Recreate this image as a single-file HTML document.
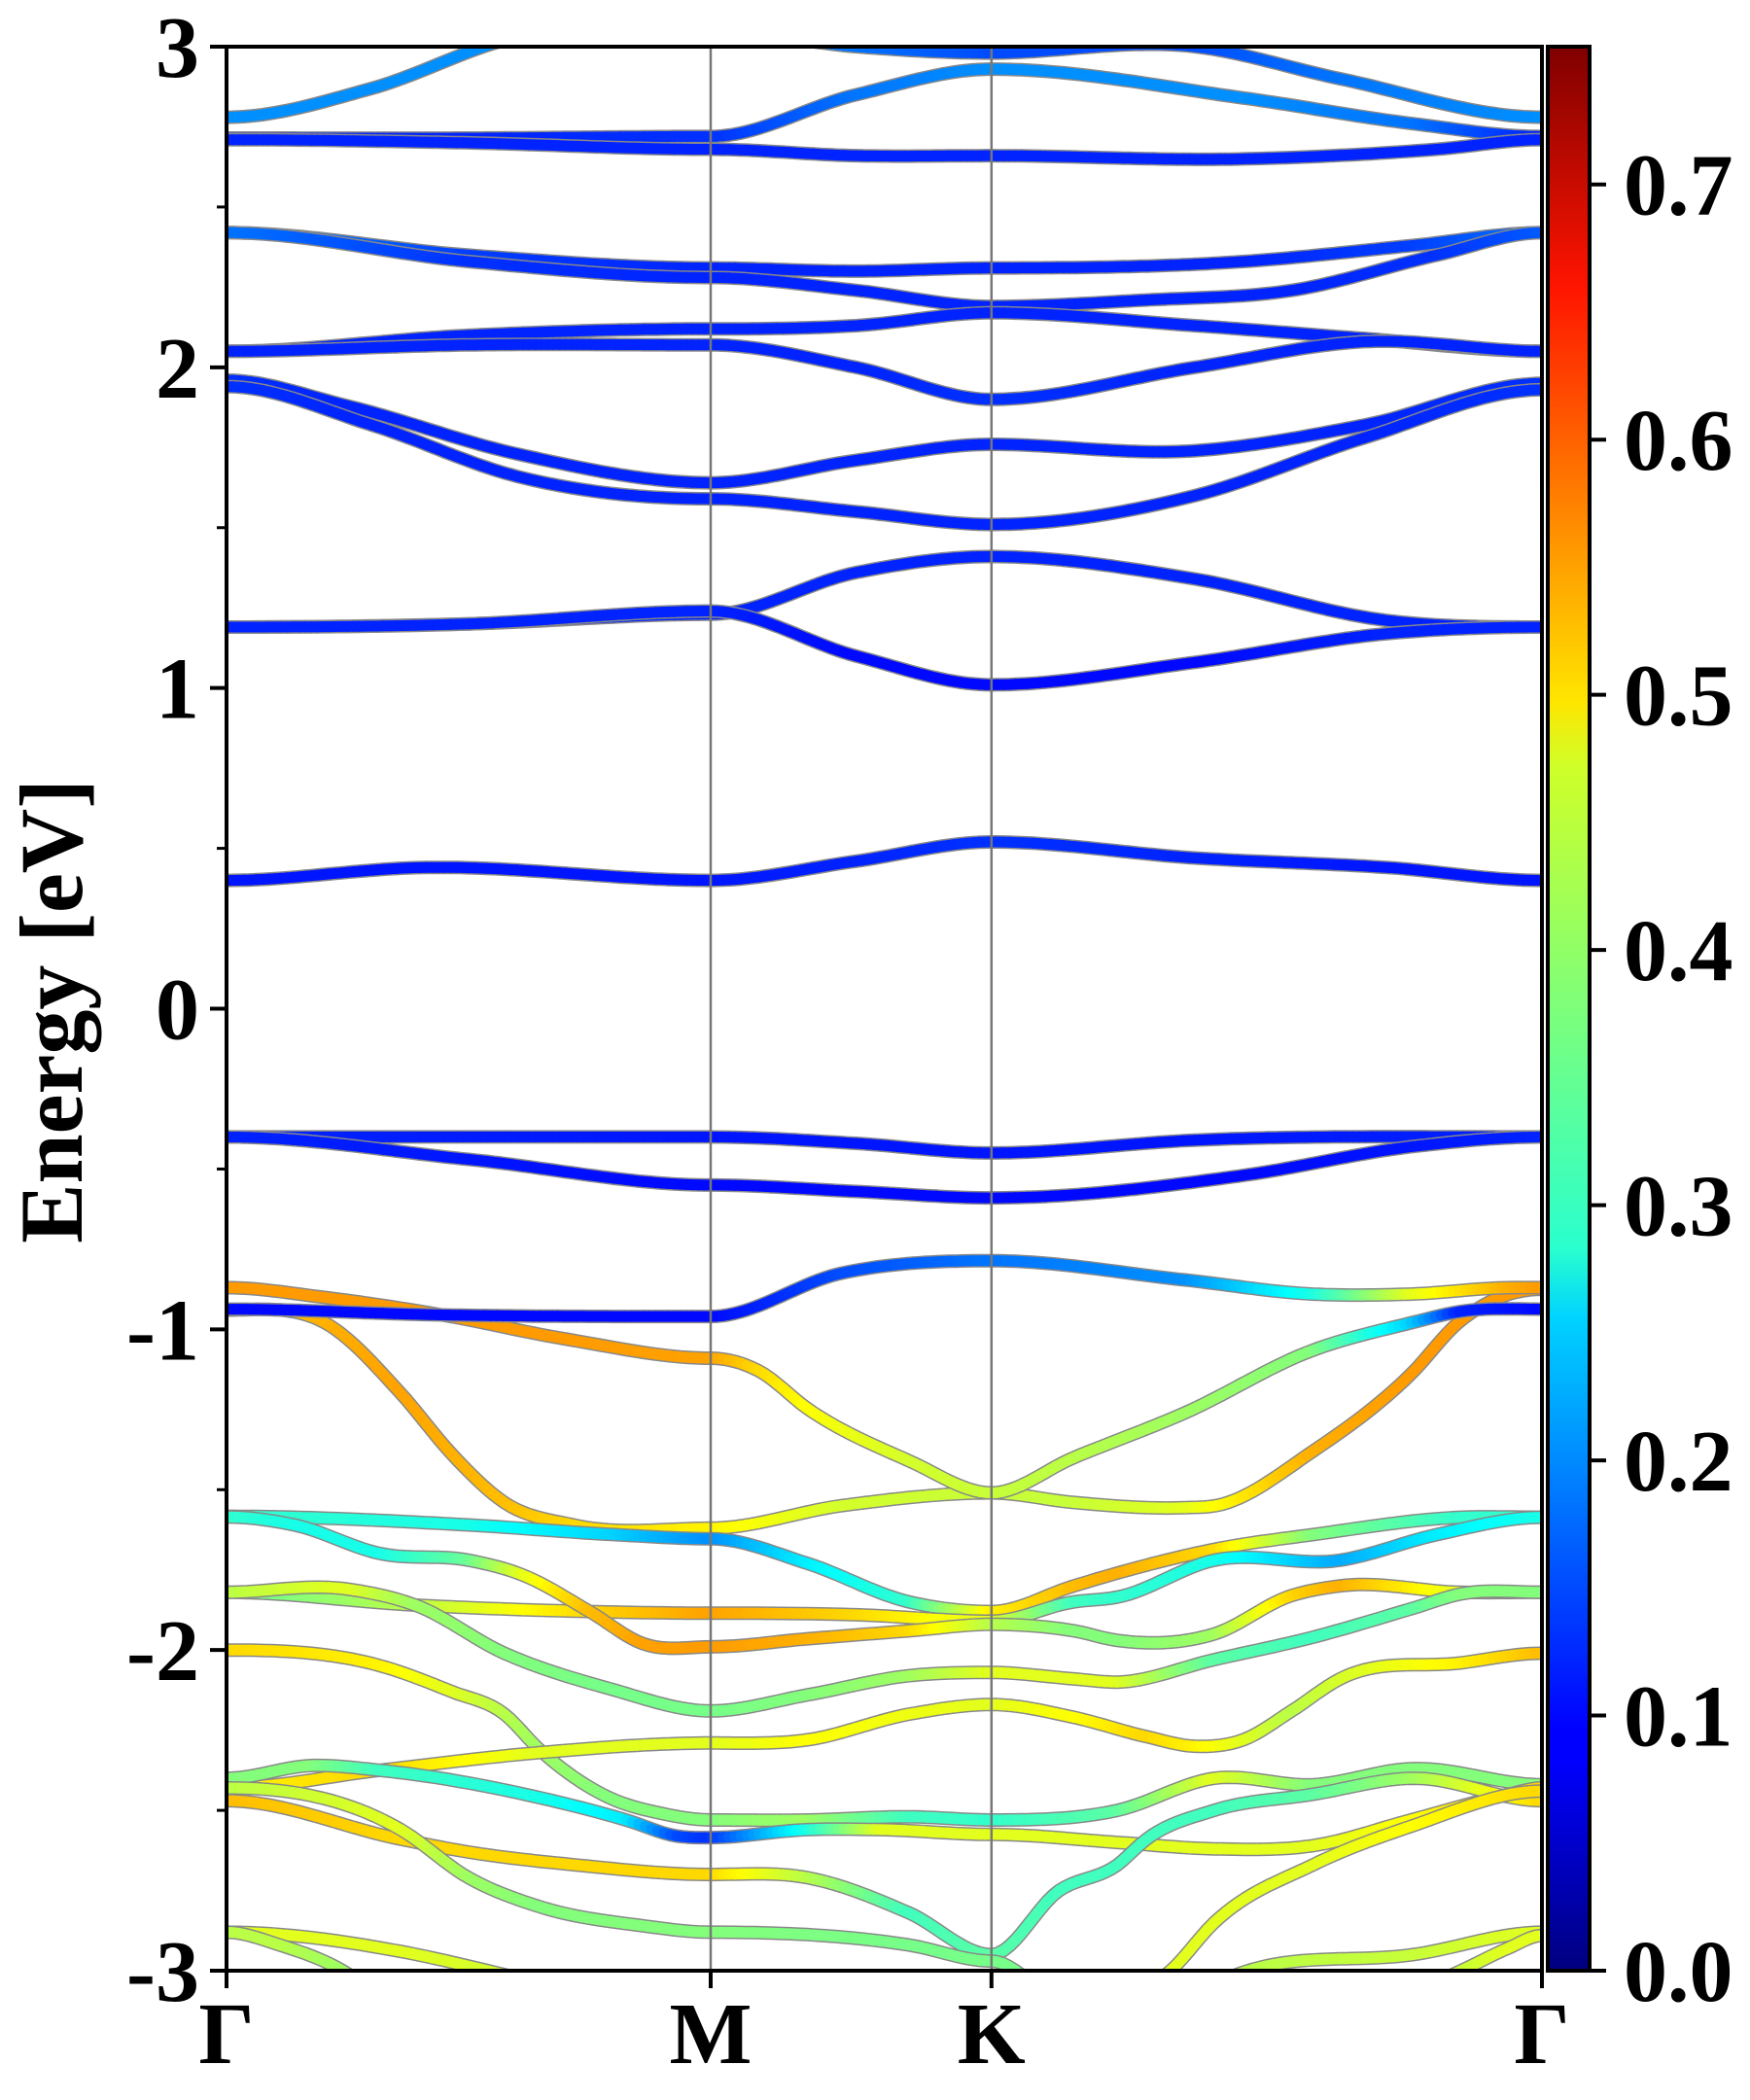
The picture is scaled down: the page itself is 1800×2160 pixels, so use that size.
<!DOCTYPE html>
<html><head><meta charset="utf-8"><style>
html,body{margin:0;padding:0;background:#fff;}
svg{display:block;}
text{font-family:"Liberation Serif",serif;font-weight:bold;fill:#000;}
</style></head><body>
<svg id="chart" width="1800" height="2160" viewBox="0 0 1800 2160" xmlns="http://www.w3.org/2000/svg">
<defs>
<clipPath id="plotclip"><rect x="233" y="48" width="1353" height="1979"/></clipPath>
<linearGradient id="jetgrad" x1="0" y1="1" x2="0" y2="0">
<stop offset="0" stop-color="#00007f"/><stop offset="0.11" stop-color="#0000ff"/><stop offset="0.125" stop-color="#0000ff"/>
<stop offset="0.34" stop-color="#00d4ff"/><stop offset="0.375" stop-color="#29ffce"/><stop offset="0.5" stop-color="#7dff7a"/>
<stop offset="0.625" stop-color="#ceff29"/><stop offset="0.66" stop-color="#ffe500"/><stop offset="0.875" stop-color="#ff1400"/>
<stop offset="1" stop-color="#7f0000"/></linearGradient>
</defs>
<g id="plot"></g>
</svg>
<script>
const kLabels = ["Γ","M","K","Γ"];
const kTicks = [0, 1, 1.58, 2.717];
const yTicks = [-3,-2,-1,0,1,2,3];
const cbTicks = [0.0,0.1,0.2,0.3,0.4,0.5,0.6,0.7];
const cbMax = 0.754;
// bands: each point is [k, energy(eV), weight]
const band01 = [[0,2.78,.2],[0.3,2.87,.2],[0.6,3.03,.2],[1,3.05,.2],[1.3,3.0,.18],[1.58,2.98,.15],[2.0,3.0,.15],[2.3,2.9,.18],[2.717,2.78,.2]];
const band02 = [[0,2.715,.12],[0.5,2.715,.12],[1,2.72,.13],[1.3,2.85,.18],[1.58,2.93,.2],[2.1,2.84,.2],[2.45,2.76,.18],[2.717,2.72,.12]];
const band03 = [[0,2.71,.12],[0.5,2.70,.12],[1,2.68,.12],[1.3,2.66,.12],[1.58,2.66,.12],[2.1,2.65,.12],[2.5,2.68,.12],[2.717,2.71,.12]];
const band04 = [[0,2.42,.2],[0.5,2.35,.14],[1,2.31,.12],[1.3,2.30,.12],[1.58,2.31,.12],[2.1,2.33,.12],[2.45,2.38,.14],[2.717,2.42,.18]];
const band05 = [[0,2.42,.18],[0.5,2.33,.13],[1,2.28,.12],[1.3,2.24,.12],[1.58,2.19,.12],[1.9,2.21,.12],[2.2,2.24,.12],[2.5,2.35,.13],[2.717,2.42,.16]];
const band06 = [[0,2.05,.12],[0.5,2.10,.12],[1,2.12,.12],[1.3,2.13,.12],[1.58,2.17,.12],[2.0,2.13,.12],[2.35,2.09,.12],[2.717,2.05,.12]];
const band07 = [[0,2.05,.12],[0.5,2.07,.12],[1,2.07,.12],[1.3,2.0,.12],[1.58,1.90,.13],[2.0,2.0,.12],[2.35,2.08,.12],[2.717,2.05,.12]];
const band08 = [[0,1.96,.13],[0.25,1.88,.12],[0.6,1.73,.12],[1,1.64,.12],[1.3,1.71,.12],[1.58,1.76,.12],[2.0,1.74,.12],[2.35,1.82,.12],[2.717,1.95,.13]];
const band09 = [[0,1.94,.13],[0.3,1.82,.12],[0.6,1.66,.12],[1,1.59,.12],[1.3,1.55,.12],[1.58,1.51,.12],[2.0,1.60,.12],[2.35,1.78,.12],[2.717,1.93,.13]];
const band10 = [[0,1.19,.12],[0.5,1.20,.12],[1,1.23,.12],[1.3,1.36,.12],[1.58,1.41,.12],[2.0,1.34,.12],[2.4,1.21,.12],[2.717,1.19,.12]];
const band11 = [[0,1.19,.12],[0.5,1.20,.12],[1,1.24,.12],[1.3,1.10,.1],[1.58,1.01,.1],[2.0,1.08,.1],[2.4,1.17,.12],[2.717,1.19,.12]];
const band12 = [[0,0.40,.11],[0.4,0.44,.11],[1,0.40,.11],[1.3,0.46,.12],[1.58,0.52,.13],[2.0,0.47,.12],[2.4,0.44,.11],[2.717,0.40,.11]];
const band13 = [[0,-0.40,.12],[1,-0.40,.11],[1.3,-0.42,.11],[1.58,-0.45,.11],[2.0,-0.41,.11],[2.717,-0.40,.12]];
const band14 = [[0,-0.40,.12],[0.5,-0.47,.11],[1,-0.55,.1],[1.3,-0.57,.1],[1.58,-0.59,.1],[2.1,-0.52,.1],[2.45,-0.43,.11],[2.717,-0.40,.12]];
const band15 = [[0,-0.937,.1],[0.445,-0.955,.1],[1,-0.96,.1],[1.27,-0.825,.15],[1.58,-0.786,.18],[1.98,-0.846,.2],[2.244,-0.89,.3],[2.446,-0.89,.45],[2.646,-0.87,.53],[2.717,-0.87,.545]];
const band16 = [[0,-0.87,.545],[0.2,-0.9,.545],[0.445,-0.955,.545],[0.7,-1.03,.545],[1,-1.09,.54],[1.1,-1.13,.5],[1.2,-1.247,.47],[1.41,-1.41,.44],[1.58,-1.51,.43],[1.75,-1.40,.42],[1.98,-1.26,.4],[2.244,-1.065,.38],[2.446,-0.98,.25],[2.546,-0.945,.12],[2.717,-0.937,.1]];
const band17 = [[0,-0.94,.5],[0.215,-0.99,.53],[0.36,-1.20,.54],[0.466,-1.39,.53],[0.574,-1.54,.52],[0.717,-1.61,.5],[1,-1.62,.48],[1.27,-1.55,.44],[1.58,-1.51,.43],[1.75,-1.54,.43],[1.98,-1.556,.45],[2.043,-1.55,.47],[2.244,-1.38,.53],[2.446,-1.14,.545],[2.546,-0.977,.545],[2.717,-0.875,.545]];
const band18 = [[0,-1.583,.32],[0.5,-1.61,.3],[0.8,-1.64,.25],[1,-1.653,.2],[1.2,-1.73,.27],[1.41,-1.85,.32],[1.58,-1.88,.48],[1.75,-1.80,.52],[1.84,-1.76,.53],[2.04,-1.686,.5],[2.244,-1.64,.38],[2.55,-1.586,.32],[2.717,-1.586,.32]];
const band19 = [[0,-1.82,.36],[0.39,-1.86,.42],[0.75,-1.88,.5],[1,-1.885,.54],[1.3,-1.89,.5],[1.58,-1.91,.45],[1.75,-1.85,.33],[1.84,-1.835,.32],[2.04,-1.72,.3],[2.3,-1.72,.22],[2.5,-1.64,.27],[2.717,-1.586,.3]];
const band20 = [[0,-1.585,.32],[0.14,-1.61,.3],[0.32,-1.70,.3],[0.5,-1.72,.36],[0.61,-1.765,.45],[0.75,-1.88,.52],[0.86,-1.98,.54],[1,-1.99,.545],[1.2,-1.965,.53],[1.41,-1.94,.5],[1.58,-1.92,.42],[1.75,-1.94,.38],[1.84,-1.97,.38],[2.04,-1.95,.4],[2.2,-1.83,.5],[2.3,-1.80,.53],[2.55,-1.82,.45],[2.717,-1.82,.38]];
const band21 = [[0,-1.82,.42],[0.25,-1.81,.45],[0.39,-1.86,.4],[0.574,-2.01,.38],[0.79,-2.12,.37],[1,-2.19,.37],[1.2,-2.14,.38],[1.41,-2.08,.4],[1.58,-2.07,.45],[1.75,-2.09,.45],[1.84,-2.10,.45],[2.04,-2.03,.35],[2.244,-1.96,.33],[2.45,-1.87,.35],[2.55,-1.825,.38],[2.717,-1.82,.38]];
const band22 = [[0,-2.00,.5],[0.32,-2.05,.48],[0.466,-2.13,.45],[0.574,-2.20,.42],[0.646,-2.31,.4],[0.79,-2.46,.38],[0.9,-2.51,.38],[1,-2.53,.38],[1.2,-2.53,.4],[1.41,-2.52,.33],[1.58,-2.53,.32],[1.84,-2.50,.35],[2.04,-2.40,.45],[2.244,-2.42,.38],[2.446,-2.37,.38],[2.717,-2.42,.38]];
const band23 = [[0,-2.43,.48],[0.316,-2.375,.5],[0.646,-2.32,.45],[1,-2.29,.45],[1.2,-2.28,.47],[1.41,-2.2,.46],[1.58,-2.17,.45],[1.75,-2.21,.47],[1.9,-2.27,.5],[2.0,-2.30,.48],[2.1,-2.28,.45],[2.2,-2.19,.42],[2.3,-2.09,.44],[2.55,-2.04,.48],[2.717,-2.01,.52]];
const band24 = [[0,-2.40,.38],[0.18,-2.36,.38],[0.316,-2.375,.33],[0.646,-2.46,.3],[0.825,-2.53,.27],[0.93,-2.58,.15],[1,-2.585,.13],[1.2,-2.56,.3],[1.35,-2.56,.45],[1.58,-2.575,.45],[1.84,-2.60,.45],[2.04,-2.62,.45],[2.244,-2.61,.45],[2.446,-2.53,.47],[2.647,-2.45,.5],[2.717,-2.43,.5]];
const band25 = [[0,-2.47,.52],[0.36,-2.59,.5],[0.5,-2.63,.5],[0.72,-2.67,.5],[1,-2.70,.5],[1.2,-2.71,.42],[1.41,-2.82,.33],[1.58,-2.95,.35],[1.72,-2.75,.33],[1.84,-2.67,.33],[1.9,-2.59,.33],[2.04,-2.50,.33],[2.244,-2.45,.35],[2.45,-2.40,.4],[2.717,-2.47,.5]];
const band26 = [[0,-2.43,.42],[0.36,-2.56,.45],[0.5,-2.71,.4],[0.646,-2.80,.38],[0.86,-2.86,.38],[1,-2.88,.38],[1.41,-2.92,.37],[1.58,-2.97,.37],[1.7,-3.08,.37]];
const band27 = [[1.85,-3.1,.45],[1.95,-3.0,.45],[2.04,-2.85,.45],[2.244,-2.67,.45],[2.446,-2.55,.47],[2.717,-2.44,.5]];
const band28 = [[1.95,-3.1,.42],[2.11,-3.0,.42],[2.45,-2.95,.43],[2.717,-2.88,.45]];
const band29 = [[2.4,-3.1,.42],[2.55,-3.0,.43],[2.647,-2.93,.45],[2.717,-2.89,.45]];
const band30 = [[0,-2.88,.45],[0.36,-2.94,.45],[0.54,-3.0,.44],[0.7,-3.06,.44]];
const band31 = [[0,-2.88,.42],[0.11,-2.92,.42],[0.24,-3.0,.4],[0.3,-3.06,.4]];
const bands = [band01,band02,band03,band04,band05,band06,band07,band08,band09,band10,band11,band12,band13,band14,band17,band16,band15,band18,band19,band20,band21,band22,band23,band24,band25,band26,band27,band28,band29,band30,band31];

const X0=233, X1=1586, Y0=48, Y1=2027, KMAX=2.717, EMIN=-3, EMAX=3;
const xs = k => X0 + (k/KMAX)*(X1-X0);
const ys = e => Y1 - (e-EMIN)/(EMAX-EMIN)*(Y1-Y0);
const NS="http://www.w3.org/2000/svg";
const svg=document.getElementById('chart');
const plot=document.getElementById('plot');
function mk(tag,attrs,parent){const el=document.createElementNS(NS,tag);for(const a in attrs)el.setAttribute(a,attrs[a]);(parent||svg).appendChild(el);return el;}
function jet(v){
  let t=Math.max(0,Math.min(1,v/cbMax));
  const r=Math.max(0,Math.min(1,1.5-Math.abs(4*t-3)));
  const g=Math.max(0,Math.min(1,1.5-Math.abs(4*t-2)));
  const b=Math.max(0,Math.min(1,1.5-Math.abs(4*t-1)));
  return `rgb(${Math.round(r*255)},${Math.round(g*255)},${Math.round(b*255)})`;
}
const isSym = k => kTicks.some(t=>Math.abs(t-k)<1e-6);
function sample(pts){
  const n=pts.length, d=[], m=[];
  for(let i=0;i<n-1;i++) d.push((pts[i+1][1]-pts[i][1])/(pts[i+1][0]-pts[i][0]));
  for(let i=0;i<n;i++){
    if(isSym(pts[i][0])) m.push(0);
    else if(i===0) m.push(d[0]);
    else if(i===n-1) m.push(d[n-2]);
    else { const h0=pts[i][0]-pts[i-1][0], h1=pts[i+1][0]-pts[i][0];
      m.push((h1*d[i-1]+h0*d[i])/(h0+h1)); }
  }
  const out=[];
  for(let i=0;i<n-1;i++){
    const p1=pts[i],p2=pts[i+1],h=p2[0]-p1[0];
    const steps=Math.max(4,Math.round(h*80));
    for(let j=0;j<steps;j++){
      const t=j/steps,t2=t*t,t3=t2*t;
      const e=(2*t3-3*t2+1)*p1[1]+(t3-2*t2+t)*h*m[i]+(-2*t3+3*t2)*p2[1]+(t3-t2)*h*m[i+1];
      out.push([p1[0]+t*h,e,p1[2]+(p2[2]-p1[2])*t]);
    }
  }
  const l=pts[n-1];out.push([l[0],l[1],l[2]]);
  return out;
}
const clipG=mk('g',{'clip-path':'url(#plotclip)'},plot);


[1,2].forEach(i=>{
  const l=mk('line',{x1:xs(kTicks[i]),x2:xs(kTicks[i]),y1:Y0,y2:Y1,stroke:'#777',"stroke-width":2.5},plot);
  
  
});
bands.forEach((b,bi)=>{
  const s=sample(b);
  const g=mk('g',{},clipG);
  
  
  const d='M'+s.map(p=>xs(p[0]).toFixed(1)+','+ys(p[1]).toFixed(1)).join('L');
  mk('path',{d:d,fill:'none',stroke:'#888',"stroke-width":14,"stroke-linejoin":'round'},g);
  for(let i=0;i<s.length-1;i++){
    mk('line',{x1:xs(s[i][0]).toFixed(1),y1:ys(s[i][1]).toFixed(1),x2:xs(s[i+1][0]).toFixed(1),y2:ys(s[i+1][1]).toFixed(1),stroke:jet((s[i][2]+s[i+1][2])/2),"stroke-width":11,"stroke-linecap":'round'},g);
  }
});
const fr=mk('rect',{x:X0,y:Y0,width:X1-X0,height:Y1-Y0,fill:'none',stroke:'#000',"stroke-width":4},plot);


yTicks.forEach(v=>{
  const y=ys(v);
  mk('line',{x1:X0-17,x2:X0,y1:y,y2:y,stroke:'#000',"stroke-width":4});
  const t=mk('text',{x:205,y:y+31,"text-anchor":'end',"font-size":90});
  t.textContent=String(v);
  
  
});
for(let v=-2.5;v<3;v+=1){const y=ys(v);mk('line',{x1:X0-10,x2:X0,y1:y,y2:y,stroke:'#000',"stroke-width":3});}
kTicks.forEach((k,i)=>{
  const x=xs(k);
  mk('line',{x1:x,x2:x,y1:Y1,y2:Y1+18,stroke:'#000',"stroke-width":4});
  const t=mk('text',{x:x,y:2122,"text-anchor":'middle',"font-size":90});
  t.textContent=kLabels[i];
  
  
});
const yl=mk('text',{x:0,y:0,"text-anchor":'middle',"font-size":92,transform:'translate(84,1040) rotate(-90)'});
yl.textContent='Energy [eV]';


const CBX=1592,CBW=43;
const cb=mk('rect',{x:CBX,y:Y0,width:CBW,height:Y1-Y0,fill:'url(#jetgrad)',stroke:'#000',"stroke-width":4});


cbTicks.forEach(v=>{
  const y=Y1-(v/cbMax)*(Y1-Y0);
  mk('line',{x1:CBX+CBW,x2:CBX+CBW+17,y1:y,y2:y,stroke:'#000',"stroke-width":4});
  const t=mk('text',{x:1670,y:y+31,"font-size":90});
  t.textContent=v.toFixed(1);
  
  
});
</script>
</body></html>
